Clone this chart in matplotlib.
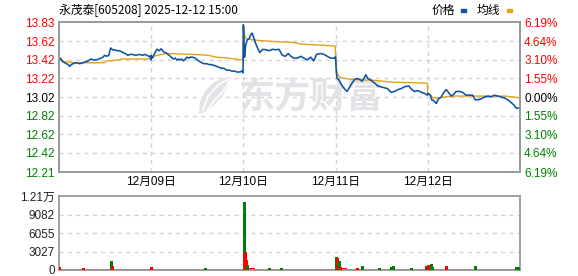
import matplotlib
matplotlib.use("Agg")
import matplotlib.pyplot as plt
from matplotlib.patches import Polygon

plt.rcParams['font.family'] = ['Liberation Sans', 'Noto Sans CJK SC', 'DejaVu Sans']

# ---- data ----
days = ['12月08日', '12月09日', '12月10日', '12月11日', '12月12日']
prev_close = 13.02
price_ticks = [13.83, 13.62, 13.42, 13.22, 13.02, 12.82, 12.62, 12.42, 12.21]
pct_labels = ['6.19%', '4.64%', '3.10%', '1.55%', '0.00%', '1.55%', '3.10%', '4.64%', '6.19%']
vol_ticks = [0, 3027, 6055, 9082, 12110]
vol_labels = ['0', '3027', '6055', '9082', '1.21万']

# price, minute of day -> price
p08_t = [0, 4, 10, 15, 19, 24, 28, 32, 37, 45, 54, 63, 70, 76, 84, 90, 97, 104, 110, 115, 119, 125, 130, 135, 140,
         145, 152, 158, 163, 167, 173, 180, 186, 193, 200, 211, 218, 224, 230, 235, 238, 240]
p08_v = [13.42, 13.44, 13.40, 13.39, 13.38, 13.37, 13.35, 13.37, 13.38, 13.39, 13.38, 13.39, 13.40, 13.41, 13.43,
         13.42, 13.42, 13.43, 13.44, 13.45, 13.47, 13.46, 13.47, 13.55, 13.53, 13.53, 13.52, 13.52, 13.51, 13.50,
         13.49, 13.47, 13.48, 13.48, 13.47, 13.48, 13.47, 13.48, 13.47, 13.46, 13.46, 13.42]
p09_t = [0, 3, 9, 15, 21, 26, 32, 41, 50, 58, 63, 67, 72, 76, 80, 84, 89, 93, 98, 102, 108, 115, 124, 132, 138, 145,
         152, 158, 165, 171, 178, 184, 190, 197, 204, 211, 218, 224, 229, 232, 237, 240]
p09_v = [13.47, 13.44, 13.49, 13.535, 13.52, 13.54, 13.51, 13.49, 13.46, 13.43, 13.44, 13.42, 13.43, 13.42, 13.43,
         13.41, 13.43, 13.45, 13.44, 13.45, 13.45, 13.44, 13.41, 13.39, 13.38, 13.38, 13.37, 13.37, 13.36, 13.35,
         13.34, 13.33, 13.33, 13.31, 13.31, 13.30, 13.30, 13.29, 13.29, 13.29, 13.30, 13.28]
p10_t = [0, 3, 6, 10, 15, 19, 23, 28, 32, 37, 43, 50, 58, 67, 76, 84, 93, 102, 110, 117, 124, 132, 141, 150, 158,
         167, 176, 184, 191, 202, 211, 219, 228, 237, 240]
p10_v = [13.80, 13.45, 13.58, 13.635, 13.65, 13.69, 13.71, 13.65, 13.60, 13.55, 13.50, 13.535, 13.53, 13.52, 13.535,
         13.53, 13.535, 13.47, 13.46, 13.49, 13.46, 13.44, 13.44, 13.46, 13.44, 13.42, 13.45, 13.41, 13.48, 13.49,
         13.48, 13.46, 13.44, 13.44, 13.44]
p11_t = [0, 2, 4, 8, 13, 19, 25, 30, 37, 43, 50, 56, 63, 69, 74, 79, 84, 93, 102, 110, 119, 128, 136, 145, 154, 163,
         171, 180, 191, 197, 206, 215, 224, 232, 240]
p11_v = [13.455, 13.28, 13.22, 13.21, 13.17, 13.13, 13.10, 13.08, 13.13, 13.17, 13.21, 13.22, 13.21, 13.19, 13.22,
         13.26, 13.22, 13.20, 13.17, 13.14, 13.13, 13.12, 13.11, 13.07, 13.08, 13.10, 13.11, 13.13, 13.14, 13.11,
         13.08, 13.09, 13.07, 13.06, 13.04]
p12_t = [0, 7, 10, 16, 22, 28, 35, 42, 48, 54, 61, 68, 74, 83, 91, 100, 109, 117, 124, 131, 139, 148, 157, 165, 174,
         183, 191, 200, 209, 218, 226, 231, 240]
p12_v = [13.06, 13.04, 12.99, 12.98, 12.95, 13.00, 13.02, 13.07, 13.10, 13.07, 13.03, 13.05, 13.08, 13.08, 13.07,
         13.04, 13.04, 13.04, 12.99, 12.99, 13.00, 13.02, 13.03, 13.02, 13.04, 13.03, 13.02, 13.01, 12.99, 12.96,
         12.93, 12.90, 12.90]

# average line (均线), minute of day -> price
a08_t = [0, 17, 45, 119, 124, 140, 147, 158, 163, 230, 240]
a08_v = [13.42, 13.40, 13.39, 13.39, 13.41, 13.41, 13.42, 13.42, 13.43, 13.43, 13.44]
a09_t = [0, 15, 40, 110, 150, 170, 200, 240]
a09_v = [13.45, 13.47, 13.49, 13.48, 13.47, 13.45, 13.44, 13.42]
a10_t = [0, 3, 6, 41, 76, 128, 154, 206, 240]
a10_v = [13.78, 13.70, 13.65, 13.63, 13.62, 13.61, 13.59, 13.58, 13.57]
a11_t = [0, 2, 5, 12, 40, 100, 150, 240]
a11_v = [13.455, 13.32, 13.27, 13.23, 13.21, 13.20, 13.18, 13.17]
a12_t = [0, 5, 13, 30, 44, 70, 200, 226, 240]
a12_v = [13.06, 13.05, 13.01, 13.01, 13.02, 13.03, 13.03, 13.02, 13.01]

# volume spikes: day index, minute, volume, up(1)/down(0)
spike_day = [0, 0, 0, 0, 0, 1, 1, 2, 2, 2, 2, 2, 2, 2, 2, 2, 2, 2, 2,
             3, 3, 3, 3, 3, 3, 3, 3, 3, 3, 3, 3, 3, 3, 3, 3, 3, 3,
             4, 4, 4, 4, 4, 4, 4, 4]
spike_min = [0, 1, 62, 136, 138, 0, 140, 1, 2, 3, 4, 5, 6, 7, 8, 10, 68, 97, 98,
             2, 3, 4, 5, 6, 7, 8, 9, 11, 56, 69, 113, 144, 146, 151, 196, 198, 237,
             1, 3, 8, 10, 48, 123, 230, 237]
spike_vol = [550, 400, 300, 1500, 700, 500, 300, 11200, 2700, 2900, 1800, 1500, 1200, 1500, 1600, 900, 350, 300, 250,
             2200, 2000, 1400, 1000, 700, 800, 1300, 1400, 500, 300, 600, 300, 450, 450, 600, 300, 300, 600,
             800, 900, 1000, 500, 600, 700, 450, 450]
spike_up = [1, 1, 1, 0, 1, 1, 0, 0, 1, 1, 1, 1, 0, 1, 1, 0, 0, 1, 0,
            0, 1, 1, 0, 1, 1, 0, 0, 1, 1, 0, 0, 1, 0, 0, 1, 0, 1,
            0, 1, 0, 0, 1, 0, 0, 0]

# background volume level, one value per half hour
base_vol = [[200, 150, 150, 150, 200, 150, 150, 150],
            [150, 150, 150, 150, 150, 150, 150, 150],
            [250, 200, 150, 150, 150, 150, 150, 150],
            [250, 150, 150, 150, 150, 150, 150, 150],
            [200, 150, 150, 150, 150, 150, 150, 150]]

# ---- styling ----
N = 241
W, H = 578, 276
RED = '#ff0000'
GREEN = '#008000'
BLUE = '#0c54a4'
GOLD = '#e0a21c'
GRID = '#d2d2d2'
EDGE = '#9a9a9a'
MARK = '#e3e3e7'

fig = plt.figure(figsize=(W / 100, H / 100), dpi=100)
ax = fig.add_axes([59 / W, 1 - 172 / H, 461 / W, 150 / H])
axv = fig.add_axes([59 / W, 1 - 270 / H, 461 / W, 73.7 / H])


def join(tlists, vlists):
    xs, ys = [], []
    for d, (t, v) in enumerate(zip(tlists, vlists)):
        xs += [d * N + m for m in t]
        ys += v
    return xs, ys


def fpt(x, y):
    # pixel position -> figure fraction
    return (x / W, 1 - y / H)


px, py = join([p08_t, p09_t, p10_t, p11_t, p12_t], [p08_v, p09_v, p10_v, p11_v, p12_v])
ax_, ay_ = join([a08_t, a09_t, a10_t, a11_t, a12_t], [a08_v, a09_v, a10_v, a11_v, a12_v])

ax.plot(ax_, ay_, color=GOLD, lw=1.0, zorder=3)
ax.plot(px, py, color=BLUE, lw=1.15, zorder=4)

ax.set_xlim(0, 5 * N)
ax.set_ylim(12.214, 13.826)
for yv in price_ticks[1:-1]:
    ax.axhline(yv, color=GRID, lw=1, ls=(0, (3, 3)), zorder=1)
for d in range(1, 5):
    ax.axvline(d * N, color=GRID, lw=1, ls=(0, (3, 3)), zorder=1)

ax.set_yticks(price_ticks)
ax.set_yticklabels([f'{v:.2f}' for v in price_ticks])
ax.set_xticks([d * N for d in range(1, 5)])
ax.set_xticklabels(days[1:])
ax.tick_params(axis='y', length=0, pad=3, labelsize=8.5)
ax.tick_params(axis='x', length=0, pad=3, labelsize=8.5)
for lab, v in zip(ax.get_yticklabels(), price_ticks):
    lab.set_color(RED if v > prev_close else (GREEN if v < prev_close else 'black'))

ax2 = ax.twinx()
ax2.set_ylim(ax.get_ylim())
ax2.set_yticks(price_ticks)
ax2.set_yticklabels(pct_labels)
ax2.tick_params(axis='y', length=0, pad=3, labelsize=8.5)
for lab, v in zip(ax2.get_yticklabels(), price_ticks):
    lab.set_color(RED if v > prev_close else (GREEN if v < prev_close else 'black'))

for a in (ax, ax2, axv):
    for s in a.spines.values():
        s.set_color(EDGE)
        s.set_linewidth(1.3)

# watermark: logo + name
ax.text(fpt(311.5, 97)[0], fpt(311.5, 97)[1], '东方财富', transform=fig.transFigure, fontsize=26,
        fontweight='bold', color=MARK, ha='center', va='center', zorder=1.5, family=['Noto Sans CJK SC'])
leaf = [fpt(*p) for p in [(199, 114), (200, 102), (205, 91), (213, 83), (223, 78), (231, 77),
                          (228, 86), (222, 97), (213, 106), (205, 112)]]
ax.add_patch(Polygon(leaf, closed=True, transform=fig.transFigure, color=MARK, lw=0, zorder=1.5))
for stripe in ([(203, 110), (208, 96), (218, 85), (229, 79)], [(206, 112), (214, 101), (224, 90), (230, 80)]):
    sx_, sy_ = zip(*[fpt(*p) for p in stripe])
    ax.plot(sx_, sy_, transform=fig.transFigure, color='white', lw=1.2, zorder=1.6)

# volume panel
for d in range(5):
    for k, bv in enumerate(base_vol[d]):
        axv.bar(d * N + k * 30, bv, width=30 if k < 7 else 31, align='edge', color=RED, lw=0, zorder=2)
sx = [d * N + m for d, m in zip(spike_day, spike_min)]
sc = [RED if u else GREEN for u in spike_up]
axv.vlines(sx, 0, spike_vol, colors=sc, lw=1.0, zorder=3, antialiased=False)
axv.set_xlim(0, 5 * N)
axv.set_ylim(0, vol_ticks[-1])
for yv in vol_ticks[1:-1]:
    axv.axhline(yv, color=GRID, lw=1, ls=(0, (3, 3)), zorder=1)
axv.set_xticks([])
axv.set_yticks(vol_ticks)
axv.set_yticklabels(vol_labels)
axv.tick_params(axis='y', length=0, pad=3, labelsize=8.5, colors='#222222')

# header
fig.text(59 / W, 1 - 10 / H, '永茂泰[605208] 2025-12-12 15:00', fontsize=8.5, va='center', ha='left',
         family=['Noto Sans CJK SC'])
fig.text(432 / W, 1 - 10 / H, '价格', fontsize=8.5, va='center', ha='left', family=['Noto Sans CJK SC'])
fig.patches.append(plt.Rectangle(fpt(461, 12), 5 / W, 3 / H, transform=fig.transFigure, color=BLUE))
fig.text(477 / W, 1 - 10 / H, '均线', fontsize=8.5, va='center', ha='left', family=['Noto Sans CJK SC'])
fig.patches.append(plt.Rectangle(fpt(507, 12), 5 / W, 3 / H, transform=fig.transFigure, color=GOLD))

fig.savefig('out.png', dpi=100)
